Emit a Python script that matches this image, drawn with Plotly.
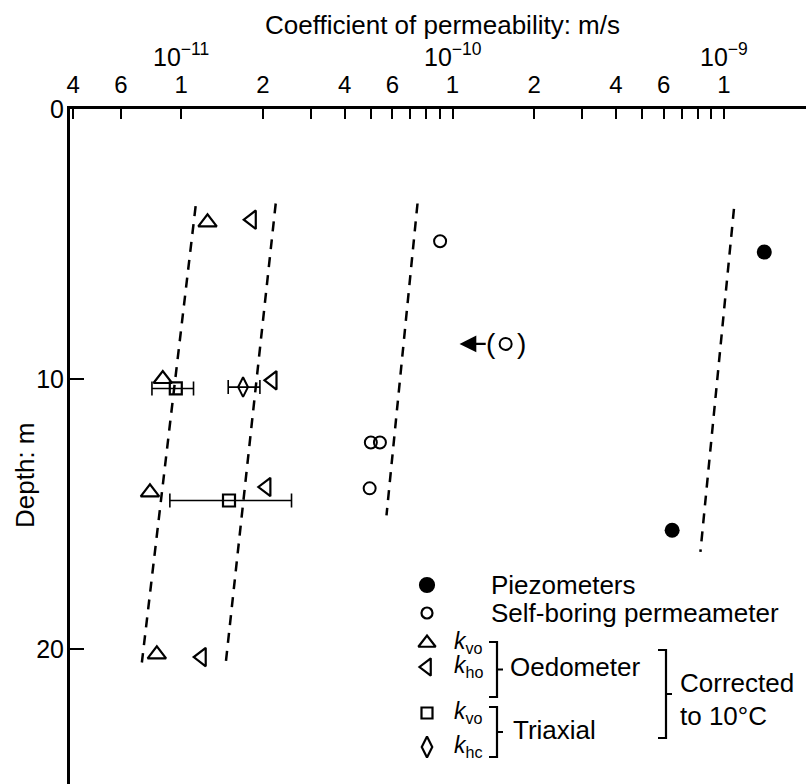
import math
import plotly.graph_objects as go

# ---- data: coefficient of permeability (m/s) against depth (m) ----
piezo_k = [1.41e-9, 6.45e-10]
piezo_z = [5.3, 15.6]

sbp_k = [9.0e-11, 5.0e-11, 5.4e-11, 4.95e-11]
sbp_z = [4.9, 12.35, 12.35, 14.05]
sbp_doubt_k = [1.57e-10]          # bracketed reading, arrow points to lower value
sbp_doubt_z = [8.7]

oed_kv_k = [1.25e-11, 8.55e-12, 7.67e-12, 8.13e-12]
oed_kv_z = [4.2, 10.0, 14.2, 20.2]
oed_kh_k = [1.82e-11, 2.17e-11, 2.06e-11, 1.19e-11]
oed_kh_z = [4.1, 10.05, 14.0, 20.3]

tri_kv_k = [9.55e-12, 1.50e-11]
tri_kv_z = [10.35, 14.5]
tri_kv_lo = [7.8e-12, 9.08e-12]
tri_kv_hi = [1.11e-11, 2.55e-11]

tri_kh_k = [1.69e-11]
tri_kh_z = [10.3]
tri_kh_lo = [1.49e-11]
tri_kh_hi = [1.95e-11]

# fitted trend lines (end points)
trend_k = [[1.13e-11, 7.16e-12], [2.23e-11, 1.46e-11],
           [7.43e-11, 5.71e-11], [1.09e-9, 8.2e-10]]
trend_z = [[3.6, 20.5], [3.5, 20.5], [3.5, 15.05], [3.7, 16.4]]

# axis ticks
tick_mult = [4, 6] + [1, 2, 3, 4, 5, 6, 7, 8, 9] * 2 + [1, 2]
tick_exp = [-12, -12] + [-11] * 9 + [-10] * 9 + [-9, -9]
tick_shown = {1, 2, 4, 6}
depth_ticks = [0, 10, 20]
decade_labels = ["10<sup>\u221211</sup>", "10<sup>\u221210</sup>", "10<sup>\u22129</sup>"]
decade_vals = [1e-11, 1e-10, 1e-9]

FONT = "Liberation Sans, Arial, sans-serif"
W, H = 811, 784
L, R, T, B = 70, 5, 109, 0
PW, PH = W - L - R, H - T - B

tickvals = [m * 10.0 ** e for m, e in zip(tick_mult, tick_exp)]
ticktext = [str(m) if m in tick_shown else "" for m in tick_mult]

fig = go.Figure()

for k, z in zip(trend_k, trend_z):
    fig.add_trace(go.Scatter(x=k, y=z, mode="lines",
                             line=dict(color="black", width=2.5, dash="10px,8px"),
                             hoverinfo="skip"))

def open_marker(sym, size, width=2.2):
    return dict(symbol=sym, size=size, color="black",
                line=dict(color="black", width=width))

fig.add_trace(go.Scatter(x=piezo_k, y=piezo_z, mode="markers",
                         marker=dict(symbol="circle", size=15, color="black")))
fig.add_trace(go.Scatter(x=sbp_k, y=sbp_z, mode="markers",
                         marker=open_marker("circle-open", 12, 2)))
fig.add_trace(go.Scatter(x=sbp_doubt_k, y=sbp_doubt_z, mode="markers",
                         marker=open_marker("circle-open", 12, 2)))
fig.add_trace(go.Scatter(x=oed_kv_k, y=oed_kv_z, mode="markers",
                         marker=open_marker("triangle-up-open", 16)))
fig.add_trace(go.Scatter(x=oed_kh_k, y=oed_kh_z, mode="markers",
                         marker=open_marker("triangle-left-open", 16)))
fig.add_trace(go.Scatter(
    x=tri_kv_k, y=tri_kv_z, mode="markers",
    marker=open_marker("square-open", 12),
    error_x=dict(type="data", symmetric=False,
                 array=[h - k for h, k in zip(tri_kv_hi, tri_kv_k)],
                 arrayminus=[k - l for k, l in zip(tri_kv_k, tri_kv_lo)],
                 color="black", thickness=1.6, width=7)))
fig.add_trace(go.Scatter(
    x=tri_kh_k, y=tri_kh_z, mode="markers",
    marker=open_marker("diamond-tall-open", 14, 2),
    error_x=dict(type="data", symmetric=False,
                 array=[h - k for h, k in zip(tri_kh_hi, tri_kh_k)],
                 arrayminus=[k - l for k, l in zip(tri_kh_k, tri_kh_lo)],
                 color="black", thickness=1.6, width=7)))

# ---- legend key drawn on a pixel-scaled overlay axis ----
key_x = 427
key_rows = [
    (585, "circle", 14, "Piezometers"),
    (613, "circle-open", 11, "Self-boring permeameter"),
    (643, "triangle-up-open", 15, None),
    (667, "triangle-left-open", 15, None),
    (713, "square-open", 11, None),
    (747, "diamond-tall-open", 15, None),
]
for y, sym, size, _ in key_rows:
    fig.add_trace(go.Scatter(
        x=[key_x], y=[y], xaxis="x2", yaxis="y2", mode="markers",
        marker=open_marker(sym, size), hoverinfo="skip"))

ann = []
def text(x, y, s, size=22, xanchor="left", xref="x2", yref="y2", **kw):
    ann.append(dict(x=x, y=y, xref=xref, yref=yref, text=s, showarrow=False,
                    xanchor=xanchor, yanchor="middle",
                    font=dict(family=FONT, size=size, color="black"), **kw))

for y, _, _, label in key_rows:
    if label:
        text(489, y, label, size=26)
sub = [("vo", 642), ("ho", 666), ("vo", 712), ("hc", 746)]
for s, y in sub:
    text(452, y, "<i>k</i><sub>%s</sub>" % s, size=23)
text(508, 667, "Oedometer", size=26)
text(511, 730, "Triaxial", size=26)
text(678, 683, "Corrected", size=26)
text(678, 716, "to 10\u00b0C", size=26)

shapes = []
def bracket(x, y0, y1, arm=8, tick=6):
    ym = (y0 + y1) / 2
    path = "M %g,%g L %g,%g L %g,%g L %g,%g M %g,%g L %g,%g" % (
        x - arm, y0, x, y0, x, y1, x - arm, y1, x, ym, x + tick, ym)
    shapes.append(dict(type="path", path=path, xref="x2", yref="y2",
                       line=dict(color="black", width=2.2)))
bracket(497, 642, 697)
bracket(497, 707, 757)
bracket(666, 650, 738)

# bracketed reading with arrow
text(math.log10(sbp_doubt_k[0]) - 0.055, sbp_doubt_z[0], "(", size=28,
     xanchor="center", xref="x", yref="y")
text(math.log10(sbp_doubt_k[0]) + 0.06, sbp_doubt_z[0], ")", size=28,
     xanchor="center", xref="x", yref="y")
ann.append(dict(x=math.log10(sbp_doubt_k[0]) - 0.17, y=sbp_doubt_z[0],
                ax=math.log10(sbp_doubt_k[0]) - 0.068, ay=sbp_doubt_z[0],
                xref="x", yref="y", axref="x", ayref="y", text="",
                showarrow=True, arrowhead=2, arrowsize=1.4, arrowwidth=2.4,
                arrowcolor="black"))

# decade labels and titles
for v, s in zip(decade_vals, decade_labels):
    ann.append(dict(x=math.log10(v), y=1 + (T - 55) / PH, xref="x",
                    yref="paper", text=s, showarrow=False, yanchor="middle",
                    font=dict(family=FONT, size=25, color="black")))
ann.append(dict(x=(443 - L) / PW, y=1 + (T - 25) / PH, xref="paper", yref="paper",
                text="Coefficient of permeability: m/s", showarrow=False,
                yanchor="middle", font=dict(family=FONT, size=26, color="black")))
ann.append(dict(x=(25 - L) / PW, y=1 - (475 - T) / PH, xref="paper", yref="paper",
                text="Depth: m", textangle=-90, showarrow=False,
                xanchor="center", yanchor="middle",
                font=dict(family=FONT, size=26, color="black")))

fig.update_layout(
    width=W, height=H, margin=dict(l=L, r=R, t=T, b=B),
    paper_bgcolor="white", plot_bgcolor="white", showlegend=False,
    annotations=ann, shapes=shapes,
    font=dict(family=FONT, color="black"),
    xaxis=dict(type="log", side="top", range=[-11.41, -8.697],
               tickvals=tickvals, ticktext=ticktext, ticks="inside",
               ticklen=10, tickwidth=2, tickcolor="black",
               showline=True, linewidth=2.5, linecolor="black",
               showgrid=False, zeroline=False, ticklabelstandoff=4,
               tickfont=dict(family=FONT, size=24, color="black")),
    yaxis=dict(range=[25.0, 0], tickvals=depth_ticks, ticks="inside",
               ticklen=14, tickwidth=2, tickcolor="black",
               showline=True, linewidth=3, linecolor="black",
               showgrid=False, zeroline=False, ticklabelstandoff=-2,
               tickfont=dict(family=FONT, size=25, color="black")),
    xaxis2=dict(overlaying="x", range=[L, L + PW], visible=False),
    yaxis2=dict(overlaying="y", range=[T + PH, T], visible=False),
)

fig.write_html("out.html")
